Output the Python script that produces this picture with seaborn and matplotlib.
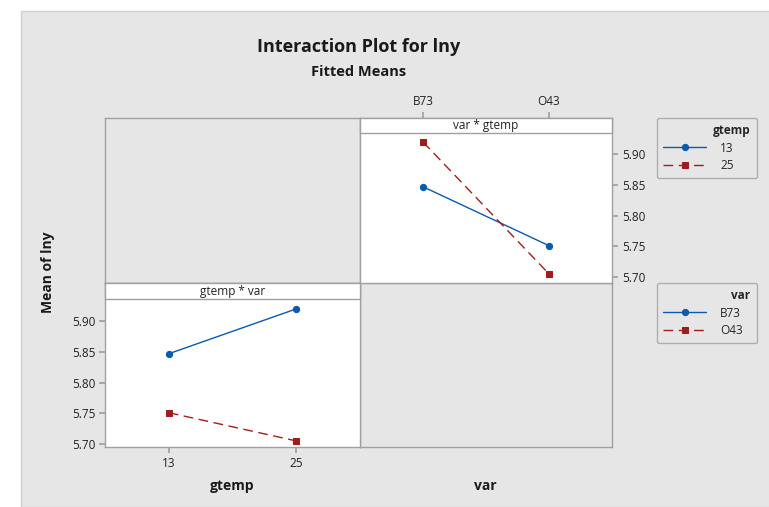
import matplotlib
matplotlib.use("Agg")
import matplotlib.pyplot as plt
from matplotlib.patches import Rectangle
import seaborn as sns
import pandas as pd

# ---- data ----
gtemp_levels = ["13", "25"]
var_levels = ["B73", "O43"]
# fitted means: rows = var, columns = gtemp
mean_B73 = [5.847, 5.920]   # at gtemp 13, 25
mean_O43 = [5.751, 5.705]   # at gtemp 13, 25
yticks = [5.70, 5.75, 5.80, 5.85, 5.90]

rows = []
for gi, g in enumerate(gtemp_levels):
    rows.append({"gtemp": g, "var": "B73", "mean": mean_B73[gi]})
    rows.append({"gtemp": g, "var": "O43", "mean": mean_O43[gi]})
df = pd.DataFrame(rows)

sns.set_theme(style="white")
plt.rcParams["font.family"] = ["Open Sans", "DejaVu Sans"]

W, H = 769, 507
fig = plt.figure(figsize=(W / 100, H / 100), dpi=100)
fig.patch.set_facecolor("white")
BG = "#e6e6e6"
EDGE = "#a0a0a0"
fig.patches.append(Rectangle((21 / W, 0), 1, 1 - 11 / H, transform=fig.transFigure,
                             facecolor=BG, edgecolor="#cfcfcf", lw=1, zorder=-10))

def ax_px(x0, y0, x1, y1):
    return fig.add_axes([x0 / W, 1 - y1 / H, (x1 - x0) / W, (y1 - y0) / H])

blue = "#0a5aad"
red = "#a11d1d"
pal = [blue, red]
TXT = "#222222"

def style_axes(ax):
    for s in ax.spines.values():
        s.set_color(EDGE)
        s.set_linewidth(1)

def strip(ax, frac, text):
    ax.add_patch(Rectangle((0, 1 - frac), 1, frac, transform=ax.transAxes,
                           facecolor="white", edgecolor=EDGE, lw=1, zorder=5, clip_on=False))
    ax.text(0.5, 1 - frac / 2, text, transform=ax.transAxes, ha="center", va="center",
            fontsize=8.5, zorder=6, color=TXT)

# empty panels
for (x0, y0, x1, y1) in [(105, 118, 360, 283), (360, 283, 612, 447)]:
    a = ax_px(x0, y0, x1, y1)
    a.set_facecolor(BG)
    a.set_xticks([]); a.set_yticks([])
    style_axes(a)

# bottom-left: gtemp * var  (x = gtemp, hue = var)
ax1 = ax_px(105, 283, 360, 447)
sns.pointplot(data=df, x="gtemp", y="mean", hue="var", order=gtemp_levels,
              hue_order=var_levels, palette=pal, markers=["o", "s"],
              linestyles=["-", (0, (7, 4))], errorbar=None, ax=ax1,
              markersize=4.5, linewidth=1)
h1, l1 = ax1.get_legend_handles_labels()
if ax1.get_legend() is not None:
    ax1.get_legend().remove()
ax1.set_xlim(-0.5, 1.5)
ax1.set_ylim(5.6951, 5.9622)
ax1.set_yticks(yticks)
ax1.set_yticklabels([f"{v:.2f}" for v in yticks])
ax1.set_xlabel(""); ax1.set_ylabel("")
ax1.tick_params(axis="both", which="both", length=4, color=EDGE, labelsize=8.5,
                labelcolor=TXT, left=True, bottom=True, pad=3)
style_axes(ax1)
ax1.set_facecolor("white")
strip(ax1, 16 / 164, "gtemp * var")

# top-right: var * gtemp  (x = var, hue = gtemp)
ax2 = ax_px(360, 118, 612, 283)
sns.pointplot(data=df, x="var", y="mean", hue="gtemp", order=var_levels,
              hue_order=gtemp_levels, palette=pal, markers=["o", "s"],
              linestyles=["-", (0, (7, 4))], errorbar=None, ax=ax2,
              markersize=4.5, linewidth=1)
h2, l2 = ax2.get_legend_handles_labels()
if ax2.get_legend() is not None:
    ax2.get_legend().remove()
ax2.set_xlim(-0.5, 1.5)
ax2.set_ylim(5.6902, 5.959)
ax2.set_yticks(yticks)
ax2.set_yticklabels([f"{v:.2f}" for v in yticks])
ax2.yaxis.tick_right()
ax2.xaxis.tick_top()
ax2.set_xlabel(""); ax2.set_ylabel("")
ax2.tick_params(axis="both", which="both", length=4, color=EDGE, labelsize=8.5,
                labelcolor=TXT, right=True, top=True, left=False, bottom=False, pad=3)
style_axes(ax2)
ax2.set_facecolor("white")
strip(ax2, 15 / 165, "var * gtemp")

# legends
def make_legend(handles, labels, title, x0, y0, x1, y1):
    leg = fig.legend(handles, labels, title=title, loc="upper left",
                     bbox_to_anchor=(x0 / W, 1 - y1 / H, (x1 - x0) / W, (y1 - y0) / H),
                     mode="expand", frameon=True, fontsize=8.5, title_fontsize=8.5,
                     handlelength=3.6, borderaxespad=0, alignment="right",
                     borderpad=0.55, labelspacing=0.35, handletextpad=1.2)
    leg.get_frame().set_facecolor(BG)
    leg.get_frame().set_edgecolor(EDGE)
    leg.get_frame().set_linewidth(1)
    leg.get_title().set_fontweight("bold")
    return leg

make_legend(h2, l2, "gtemp", 657, 118, 757, 178)
make_legend(h1, l1, "var", 657, 283, 757, 343)

# titles and labels
fig.text(359 / W, 1 - 47 / H, "Interaction Plot for lny", ha="center", va="center",
         fontsize=13, fontweight="bold", color="#1a1a1a")
fig.text(359 / W, 1 - 72 / H, "Fitted Means", ha="center", va="center",
         fontsize=10.5, fontweight="bold", color="#1a1a1a")
fig.text(232 / W, 1 - 486 / H, "gtemp", ha="center", va="center",
         fontsize=10, fontweight="bold", color="#1a1a1a")
fig.text(485 / W, 1 - 486 / H, "var", ha="center", va="center",
         fontsize=10, fontweight="bold", color="#1a1a1a")
fig.text(48 / W, 1 - 272 / H, "Mean of lny", ha="center", va="center", rotation=90,
         fontsize=10, fontweight="bold", color="#1a1a1a")

fig.savefig("out.png", dpi=100, facecolor=fig.get_facecolor())
